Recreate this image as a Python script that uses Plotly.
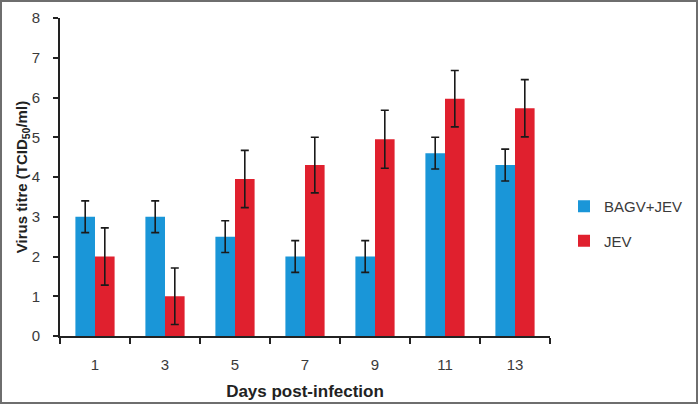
import plotly.graph_objects as go

days = ["1", "3", "5", "7", "9", "11", "13"]
bagv_jev = [3.0, 3.0, 2.5, 2.0, 2.0, 4.6, 4.3]
bagv_jev_err = [0.4, 0.4, 0.4, 0.4, 0.4, 0.4, 0.4]
jev = [2.0, 1.0, 3.95, 4.3, 4.95, 5.97, 5.73]
jev_err = [0.72, 0.71, 0.72, 0.7, 0.73, 0.71, 0.72]

W, H = 698, 404
L, R, T, B = 60, 148, 18, 68
pw, ph = W - L - R, H - T - B

def px(x):
    return (x - L) / pw

def py(y):
    return (H - B - y) / ph

fig = go.Figure()
fig.add_trace(go.Bar(
    x=days, y=bagv_jev, name="BAGV+JEV", legendgroup="a",
    marker=dict(color="#1a96d8", line=dict(width=0)),
    error_y=dict(type="data", array=bagv_jev_err, color="#1a1a1a", thickness=1.6, width=4),
))
fig.add_trace(go.Bar(
    x=days, y=jev, name="JEV", legendgroup="b",
    marker=dict(color="#e0202e", line=dict(width=0)),
    error_y=dict(type="data", array=jev_err, color="#1a1a1a", thickness=1.6, width=4),
))

font = "Liberation Sans, Arial, sans-serif"
fig.update_layout(
    width=W, height=H,
    margin=dict(l=L, r=R, t=T, b=B, pad=0, autoexpand=False),
    paper_bgcolor="white", plot_bgcolor="white",
    barmode="group", bargap=0.44, bargroupgap=0,
    font=dict(family=font, size=15, color="#3a3a3a"),
    showlegend=True,
    legend=dict(x=px(564), y=py(190), xanchor="left", yanchor="top",
                font=dict(size=15, color="#3a3a3a"), tracegroupgap=12,
                bgcolor="rgba(0,0,0,0)"),
    xaxis=dict(
        type="category", showline=True, linecolor="#222222", linewidth=2,
        ticks="outside", tickson="boundaries", ticklen=6, tickwidth=2, tickcolor="#222222",
        tickfont=dict(size=15, color="#3a3a3a"), ticklabelstandoff=14, automargin=False,
        title=dict(text="<b>Days post-infection</b>", font=dict(size=17, color="#222222"), standoff=13),
        showgrid=False, zeroline=False,
    ),
    yaxis=dict(
        range=[0, 8], dtick=1, showline=True, linecolor="#222222", linewidth=2,
        ticks="outside", ticklen=5, tickwidth=2, tickcolor="#222222",
        tickfont=dict(size=15, color="#3a3a3a"), ticklabelstandoff=10, automargin=False,
        title=dict(text="<b>Virus titre (TCID<sub>50</sub>/ml)</b>", font=dict(size=15, color="#222222"), standoff=0),
        showgrid=False, zeroline=False,
    ),
    shapes=[dict(type="rect", xref="paper", yref="paper",
                 x0=px(1), x1=px(697), y0=py(403), y1=py(1),
                 line=dict(color="#6e6e6e", width=2), fillcolor="rgba(0,0,0,0)", layer="above")],
)

fig.write_html("out.html", config={"displayModeBar": False},
               post_script="document.body.style.margin='0';")
